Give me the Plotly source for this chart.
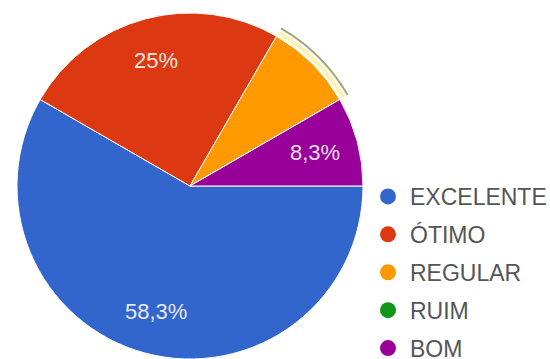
import math
import plotly.graph_objects as go

# Survey answers (counts) and their colours
categories = ["EXCELENTE", "ÓTIMO", "REGULAR", "RUIM", "BOM"]
counts = [7, 3, 1, 0, 1]
colors = ["#3366cc", "#dc3912", "#ff9900", "#109618", "#990099"]

W, H = 550, 359
CX, CY, R = 190, 186, 173  # pie centre / radius in pixels

total = sum(counts)


def pct_text(v):
    p = round(100 * v / total, 1)
    s = f"{p:.1f}".rstrip("0").rstrip(".")
    return s.replace(".", ",") + "%"


def px_to_paper(x, y):
    return x / W, (H - y) / H


fig = go.Figure()
fig.add_trace(go.Pie(
    labels=categories,
    values=counts,
    marker=dict(colors=colors, line=dict(color="white", width=1)),
    sort=False,
    direction="clockwise",
    rotation=90,
    textinfo="none",
    hoverinfo="label+percent",
    showlegend=False,
    domain=dict(x=[(CX - R - 6) / W, (CX + R + 6) / W],
                y=[(H - CY - R) / H, (H - CY + R) / H]),
))

# legend entries with round swatches
for i, (name, col) in enumerate(zip(categories, colors)):
    fig.add_trace(go.Scatter(
        x=[None], y=[None], mode="markers", name=name,
        marker=dict(symbol="circle", size=17, color=col),
        legendgroup=f"g{i}", showlegend=True, hoverinfo="skip",
    ))

# percentage labels along each slice's middle angle (clockwise from 3 o'clock)
annotations = []
acc = 0
for name, v in zip(categories, counts):
    mid = 360 * (acc + v / 2) / total
    acc += v
    if v == 0 or name == "REGULAR":
        continue
    a = math.radians(-mid)
    x = CX + 0.75 * R * math.cos(a)
    y = CY - 0.75 * R * math.sin(a)
    ax, ay = px_to_paper(x, y)
    annotations.append(dict(
        x=ax, y=ay, xref="paper", yref="paper", text=pct_text(v),
        xanchor="center", yanchor="middle", showarrow=False,
        font=dict(family="Liberation Sans", size=22, color="rgba(255,255,255,0.88)"),
    ))

# hover highlight ring around the REGULAR slice
idx = categories.index("REGULAR")
start_deg = 360 * sum(counts[:idx]) / total
end_deg = 360 * sum(counts[:idx + 1]) / total


def arc_path(radius, a0, a1, n=40):
    pts = []
    for k in range(n + 1):
        a = math.radians(a0 + (a1 - a0) * k / n)
        x = CX + radius * math.cos(a)
        y = CY - radius * math.sin(a)
        px, py = px_to_paper(x, y)
        pts.append(f"{px:.5f},{py:.5f}")
    return "M " + " L ".join(pts)


a0, a1 = 360 - end_deg, 360 - start_deg
shapes = [
    dict(type="path", xref="paper", yref="paper", path=arc_path(R + 4, a0, a1),
         line=dict(color="#fdf1b8", width=4)),
    dict(type="path", xref="paper", yref="paper", path=arc_path(R + 9, a0, a1),
         line=dict(color="#a9a578", width=2)),
]

fig.update_layout(
    width=W, height=H,
    margin=dict(l=0, r=0, t=0, b=0, autoexpand=False),
    paper_bgcolor="white", plot_bgcolor="white",
    xaxis=dict(visible=False), yaxis=dict(visible=False),
    annotations=annotations,
    shapes=shapes,
    legend=dict(
        x=366 / W, y=(H - 175) / H, xanchor="left", yanchor="top",
        font=dict(family="Liberation Sans", size=23, color="#555555"),
        tracegroupgap=5, itemsizing="trace", itemwidth=34,
        bgcolor="rgba(0,0,0,0)",
    ),
)

fig.write_html("out.html")
